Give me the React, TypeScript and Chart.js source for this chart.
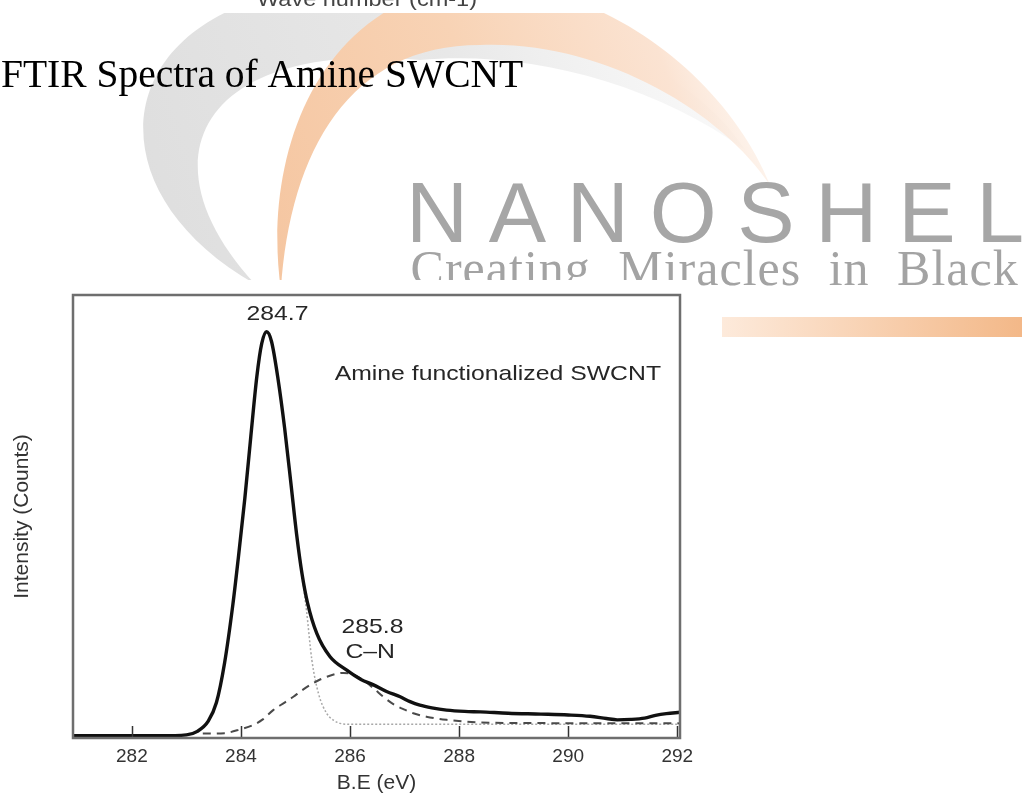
import React, { useEffect, useRef } from "react";
import { Chart, registerables } from "chart.js";

Chart.register(...registerables);

// ---- data ----
const xTicks = [282, 284, 286, 288, 290, 292];

// measured envelope (solid black)
const envelopeX = [280.92, 282.0, 282.5, 283.0, 283.2, 283.4, 283.55, 283.7, 283.85, 283.95, 284.07, 284.18, 284.29, 284.38, 284.47, 284.56, 284.68, 284.8, 284.92, 285.02, 285.12, 285.22, 285.39, 285.63, 285.94, 286.2, 286.43, 286.67, 286.92, 287.1, 287.28, 287.5, 287.77, 288.1, 288.39, 288.9, 289.5, 290.0, 290.4, 290.7, 290.9, 291.15, 291.4, 291.6, 291.8, 292.05];
const envelopeY = [0.5, 0.5, 0.5, 0.7, 1.5, 3.8, 8, 17, 30, 40.5, 54, 68, 81.5, 89, 91.7, 89.5, 81, 70, 57, 46, 37, 30.5, 23.6, 18.4, 15.3, 13.2, 12.0, 10.5, 9.3, 8.2, 7.4, 6.8, 6.3, 6.0, 5.9, 5.6, 5.4, 5.2, 4.9, 4.4, 4.1, 4.2, 4.5, 5.1, 5.5, 5.8];

// C-C component (light dotted)
const ccX = [280.92, 282.0, 282.5, 283.0, 283.2, 283.4, 283.55, 283.7, 283.85, 283.95, 284.07, 284.18, 284.29, 284.38, 284.47, 284.56, 284.68, 284.8, 284.92, 285.02, 285.12, 285.2, 285.3, 285.42, 285.57, 285.7, 285.82, 286.0, 287.0, 292.05];
const ccY = [0.5, 0.5, 0.5, 0.7, 1.5, 3.8, 8, 17, 30, 40.5, 54, 68, 81.5, 89, 91.7, 89.5, 81, 70, 57, 46, 36.5, 28.9, 17.6, 10.1, 5.6, 4.0, 3.3, 3.1, 3.1, 3.1];

// C-N component (dashed)
const cnX = [283.3, 283.7, 284.0, 284.2, 284.4, 284.59, 284.8, 284.96, 285.1, 285.27, 285.45, 285.57, 285.75, 285.88, 286.05, 286.25, 286.45, 286.61, 286.8, 287.0, 287.16, 287.4, 287.77, 288.39, 289.0, 292.05];
const cnY = [1.0, 1.1, 2.0, 2.8, 4.2, 6.3, 8.0, 9.3, 10.6, 12.0, 13.2, 13.8, 14.5, 14.7, 14.4, 13.0, 11.0, 9.3, 7.6, 6.4, 5.6, 4.8, 4.1, 3.5, 3.4, 3.3];

// annotations (data coordinates)
const annoText = ["284.7", "Amine functionalized SWCNT", "285.8", "C\u2013N"];
const annoX = [284.67, 288.71, 286.41, 286.37];
const annoY = [94.4, 80.7, 23.8, 18.0];

const W = 1026;
const H = 796;
const SANS = "'Liberation Sans', Arial, Helvetica, sans-serif";
const SERIF = "'Liberation Serif', 'Times New Roman', Times, serif";

const toPts = (xs: number[], ys: number[]) => xs.map((x, i) => ({ x, y: ys[i] }));

const backdrop = {
  id: "backdrop",
  beforeDraw(chart: any) {
    const ctx: CanvasRenderingContext2D = chart.ctx;
    ctx.save();
    ctx.fillStyle = "#ffffff";
    ctx.fillRect(0, 0, W, H);

    // grey swoosh
    const g = ctx.createLinearGradient(150, 250, 745, 60);
    g.addColorStop(0, "#dedede");
    g.addColorStop(0.55, "#e8e8e8");
    g.addColorStop(1, "rgba(242,242,242,0.4)");
    ctx.fillStyle = g;
    ctx.beginPath();
    ctx.moveTo(255, 284);
    ctx.bezierCurveTo(90, 190, 110, 20, 300, -10);
    ctx.bezierCurveTo(480, -40, 690, 60, 745, 150);
    ctx.bezierCurveTo(650, 80, 520, 50, 420, 60);
    ctx.bezierCurveTo(200, 40, 140, 160, 255, 284);
    ctx.fill();

    // orange swoosh
    const o = ctx.createLinearGradient(280, 280, 790, 100);
    o.addColorStop(0, "#f5c6a1");
    o.addColorStop(0.45, "#f8d3b5");
    o.addColorStop(0.8, "#fbe3d2");
    o.addColorStop(1, "rgba(253,240,230,0.3)");
    ctx.fillStyle = o;
    ctx.beginPath();
    ctx.moveTo(281, 290);
    ctx.bezierCurveTo(265, 180, 300, 40, 420, -5);
    ctx.bezierCurveTo(560, -50, 720, 60, 770, 185);
    ctx.bezierCurveTo(720, 110, 600, 40, 480, 45);
    ctx.bezierCurveTo(350, 45, 290, 150, 281, 290);
    ctx.fill();

    // top band (end of previous figure)
    ctx.fillStyle = "#ffffff";
    ctx.fillRect(0, 0, W, 13);
    ctx.save();
    ctx.translate(257, 5.5);
    ctx.scale(1.12, 1);
    ctx.fillStyle = "#444";
    ctx.font = `21px ${SANS}`;
    ctx.textAlign = "left";
    ctx.textBaseline = "alphabetic";
    ctx.fillText("Wave number (cm-1)", 0, 0);
    ctx.restore();

    // logo text
    ctx.fillStyle = "#a6a6a6";
    ctx.font = `86px ${SANS}`;
    ctx.textAlign = "left";
    ctx.textBaseline = "alphabetic";
    (ctx as any).letterSpacing = "20.7px";
    ctx.fillText("NANOSHEL", 406, 242);
    (ctx as any).letterSpacing = "1px";
    (ctx as any).wordSpacing = "14px";
    ctx.fillStyle = "#a3a3a3";
    ctx.font = `50px ${SERIF}`;
    ctx.fillText("Creating Miracles in Black", 410.6, 285);
    (ctx as any).letterSpacing = "0px";
    (ctx as any).wordSpacing = "0px";

    // orange bar
    const b = ctx.createLinearGradient(722, 0, 1022, 0);
    b.addColorStop(0, "#fdeadb");
    b.addColorStop(1, "#f3b888");
    ctx.fillStyle = b;
    ctx.fillRect(722, 317, 300, 20);

    // white card of the XPS figure
    ctx.fillStyle = "#ffffff";
    ctx.fillRect(0, 280, 695, H - 280);

    // page heading
    ctx.fillStyle = "#000000";
    ctx.font = `39.5px ${SERIF}`;
    ctx.fillText("FTIR Spectra of Amine SWCNT", 1, 87);
    ctx.restore();
  },
};

const frame = {
  id: "frame",
  afterDraw(chart: any) {
    const ctx: CanvasRenderingContext2D = chart.ctx;
    const { left, right, top, bottom } = chart.chartArea;
    const xs = chart.scales.x;
    const ys = chart.scales.y;
    ctx.save();
    // inward tick marks
    ctx.strokeStyle = "#333";
    ctx.lineWidth = 1.5;
    xs.ticks.forEach((t: any) => {
      const px = Math.round(xs.getPixelForValue(t.value)) + 0.5;
      ctx.beginPath();
      ctx.moveTo(px, bottom);
      ctx.lineTo(px, bottom - 12);
      ctx.stroke();
    });
    // box
    ctx.strokeStyle = "#6e6e6e";
    ctx.lineWidth = 2.5;
    ctx.strokeRect(left, top, right - left, bottom - top);
    // annotations
    ctx.fillStyle = "#262626";
    ctx.font = `21px ${SANS}`;
    ctx.textAlign = "center";
    ctx.textBaseline = "alphabetic";
    annoText.forEach((txt, i) => {
      ctx.save();
      ctx.translate(xs.getPixelForValue(annoX[i]), ys.getPixelForValue(annoY[i]));
      ctx.scale(1.18, 1);
      ctx.fillText(txt, 0, 0);
      ctx.restore();
    });
    ctx.restore();
  },
};

export default function App() {
  const ref = useRef<HTMLCanvasElement>(null);
  useEffect(() => {
    const canvas = ref.current;
    if (!canvas) return;
    const chart = new Chart(canvas, {
      type: "line",
      data: {
        datasets: [
          {
            label: "Envelope",
            data: toPts(envelopeX, envelopeY),
            borderColor: "#111111",
            borderWidth: 3.4,
            pointRadius: 0,
            cubicInterpolationMode: "monotone",
            fill: false,
          },
          {
            label: "C-N",
            data: toPts(cnX, cnY),
            borderColor: "#4a4a4a",
            borderWidth: 2,
            borderDash: [8, 6],
            pointRadius: 0,
            cubicInterpolationMode: "monotone",
            fill: false,
          },
          {
            label: "C-C",
            data: toPts(ccX, ccY),
            borderColor: "#a8a8a8",
            borderWidth: 1.5,
            borderDash: [2, 2],
            pointRadius: 0,
            cubicInterpolationMode: "monotone",
            fill: false,
          },
        ],
      },
      options: {
        responsive: false,
        animation: false,
        devicePixelRatio: 1,
        layout: { padding: { top: 295, right: 346, left: 0, bottom: 0 } },
        plugins: {
          legend: { display: false },
          tooltip: { enabled: false },
          title: { display: false },
        },
        scales: {
          x: {
            type: "linear",
            min: 280.92,
            max: 292.05,
            afterBuildTicks: (s: any) => {
              s.ticks = xTicks.map((v) => ({ value: v }));
            },
            afterFit: (s: any) => {
              s.height = 58;
            },
            ticks: {
              autoSkip: false,
              maxRotation: 0,
              padding: 7,
              color: "#333",
              font: { family: SANS, size: 19 },
              callback: (v: any) => String(v),
            },
            grid: { display: false, drawTicks: false },
            border: { display: false },
            title: {
              display: true,
              text: "B.E (eV)",
              color: "#333",
              font: { family: SANS, size: 21 },
              padding: { top: 0, bottom: 0 },
            },
          },
          y: {
            type: "linear",
            min: 0,
            max: 100,
            afterFit: (s: any) => {
              s.width = 73;
            },
            ticks: { display: false },
            grid: { display: false, drawTicks: false },
            border: { display: false },
            title: {
              display: true,
              text: "Intensity (Counts)",
              color: "#333",
              font: { family: SANS, size: 21 },
              padding: { top: 10, bottom: 0 },
            },
          },
        },
      },
      plugins: [backdrop, frame],
    } as any);
    return () => chart.destroy();
  }, []);
  return (
    <div style={{ position: "absolute", left: 0, top: 0, width: W, height: H, background: "#fff" }}>
      <canvas ref={ref} width={W} height={H} style={{ display: "block", width: W, height: H }} />
    </div>
  );
}
